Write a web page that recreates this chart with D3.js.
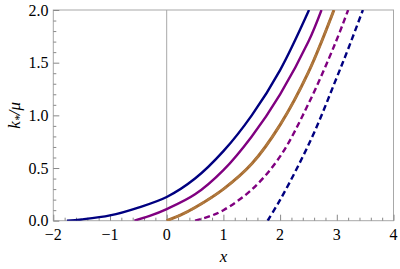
<!DOCTYPE html>
<html>
<head>
<meta charset="utf-8">
<script src="https://cdnjs.cloudflare.com/ajax/libs/d3/7.8.5/d3.min.js"></script>
<style>
  body { margin: 0; background: #fff; }
  svg { display: block; }
</style>
</head>
<body>
<svg id="chart" width="400" height="269"></svg>
<script>
// curves, [x, k*/mu]
const navySolid = [[-1.76, 0], [-1.5, 0.012], [-1.0, 0.05], [-0.5, 0.125], [0, 0.225], [0.5, 0.4], [1.0, 0.66], [1.5, 1.0], [2.0, 1.43], [2.51, 2.0]];
const purpleSolid = [[-0.57, 0], [-0.3, 0.045], [0, 0.11], [0.5, 0.25], [1.0, 0.48], [1.5, 0.8], [2.0, 1.2], [2.5, 1.7], [2.73, 2.0]];
const brownSolid = [[0, 0], [0.25, 0.055], [0.5, 0.125], [1.0, 0.3], [1.5, 0.54], [2.0, 0.91], [2.5, 1.41], [2.95, 2.0]];
const purpleDashed = [[0.5, 0], [0.75, 0.04], [1.0, 0.1], [1.5, 0.295], [2.0, 0.61], [2.5, 1.11], [2.97, 1.68], [3.2, 2.0]];
const navyDashed = [[1.78, 0], [2.0, 0.197], [2.3, 0.5], [2.62, 0.86], [2.97, 1.32], [3.2, 1.63], [3.46, 2.0]];

const xTicks = [-2, -1, 0, 1, 2, 3, 4];
const yTicks = [0, 0.5, 1.0, 1.5, 2.0];

const series = [
  { data: navySolid, color: '#000080', width: 2.4, dash: null },
  { data: purpleSolid, color: '#800080', width: 2.4, dash: null },
  { data: brownSolid, color: '#a86c30', width: 3, dash: null },
  { data: brownSolid, color: '#b07a40', width: 2.2, dash: '6,3' },
  { data: purpleDashed, color: '#800080', width: 2.4, dash: '6,3.5' },
  { data: navyDashed, color: '#000080', width: 2.4, dash: '6,3.5' }
];

const serif = '"Liberation Serif", "Times New Roman", Times, "DejaVu Serif", serif';

const svg = d3.select('#chart').attr('font-family', serif);
const pLeft = 53.3, pRight = 393.5, pTop = 10, pBottom = 220.7;

const x = d3.scaleLinear().domain([-2, 4]).range([pLeft, pRight]);
const y = d3.scaleLinear().domain([0, 2]).range([pBottom, pTop]);

const frameColor = '#a8a8a8';

// frame
svg.append('rect')
  .attr('x', pLeft).attr('y', pTop)
  .attr('width', pRight - pLeft).attr('height', pBottom - pTop)
  .attr('fill', 'none').attr('stroke', frameColor).attr('stroke-width', 1);

// x = 0 line
svg.append('line')
  .attr('x1', x(0)).attr('x2', x(0))
  .attr('y1', pTop).attr('y2', pBottom)
  .attr('stroke', frameColor).attr('stroke-width', 1);

// bottom ticks (inward)
const xAxis = d3.axisBottom(x)
  .tickValues(d3.range(-2, 4.001, 0.2))
  .tickSize(-3)
  .tickFormat('');
svg.append('g')
  .attr('transform', `translate(0,${pBottom})`)
  .call(xAxis)
  .call(g => g.select('.domain').remove())
  .call(g => g.selectAll('line').attr('stroke', '#888').attr('y2', d => Math.abs(d - Math.round(d)) < 1e-6 ? -6 : -3));

// left ticks (inward)
const yAxis = d3.axisLeft(y)
  .tickValues(d3.range(0, 2.001, 0.1))
  .tickSize(-3)
  .tickFormat('');
svg.append('g')
  .attr('transform', `translate(${pLeft},0)`)
  .call(yAxis)
  .call(g => g.select('.domain').remove())
  .call(g => g.selectAll('line').attr('stroke', '#888').attr('x2', d => Math.abs(d * 2 - Math.round(d * 2)) < 1e-6 ? 6 : 3));

// tick labels
svg.append('g').selectAll('text')
  .data(xTicks)
  .join('text')
  .attr('font-family', serif)
  .attr('x', d => x(d))
  .attr('y', 240)
  .attr('text-anchor', 'middle')
  .attr('font-size', 16)
  .text(d => d < 0 ? '\u2212' + Math.abs(d) : d);

svg.append('g').selectAll('text')
  .data(yTicks)
  .join('text')
  .attr('font-family', serif)
  .attr('x', 48.5)
  .attr('y', d => y(d) + 5.5)
  .attr('text-anchor', 'end')
  .attr('font-size', 16)
  .text(d => d.toFixed(1));

// curves
const line = d3.line()
  .x(d => x(d[0]))
  .y(d => y(d[1]))
  .curve(d3.curveCatmullRom.alpha(0.5));

svg.append('defs').append('clipPath').attr('id', 'plot')
  .append('rect').attr('x', pLeft).attr('y', pTop)
  .attr('width', pRight - pLeft).attr('height', pBottom - pTop);

svg.append('g')
  .attr('clip-path', 'url(#plot)')
  .selectAll('path')
  .data(series)
  .join('path')
  .attr('d', d => line(d.data))
  .attr('fill', 'none')
  .attr('stroke', d => d.color)
  .attr('stroke-width', d => d.width)
  .attr('stroke-dasharray', d => d.dash);

// axis labels
svg.append('text')
  .attr('font-family', serif)
  .attr('x', (pLeft + pRight) / 2)
  .attr('y', 262)
  .attr('text-anchor', 'middle')
  .attr('font-size', 17)
  .attr('font-style', 'italic')
  .text('x');

const yl = svg.append('text')
  .attr('font-family', serif)
  .attr('transform', `translate(20,${(pTop + pBottom) / 2}) rotate(-90)`)
  .attr('text-anchor', 'middle')
  .attr('font-size', 17)
  .attr('font-style', 'italic');
yl.append('tspan').text('k');
yl.append('tspan').attr('font-size', 12).attr('dy', 3).text('*');
yl.append('tspan').attr('dy', -3).text('/\u03bc');
</script>
</body>
</html>
